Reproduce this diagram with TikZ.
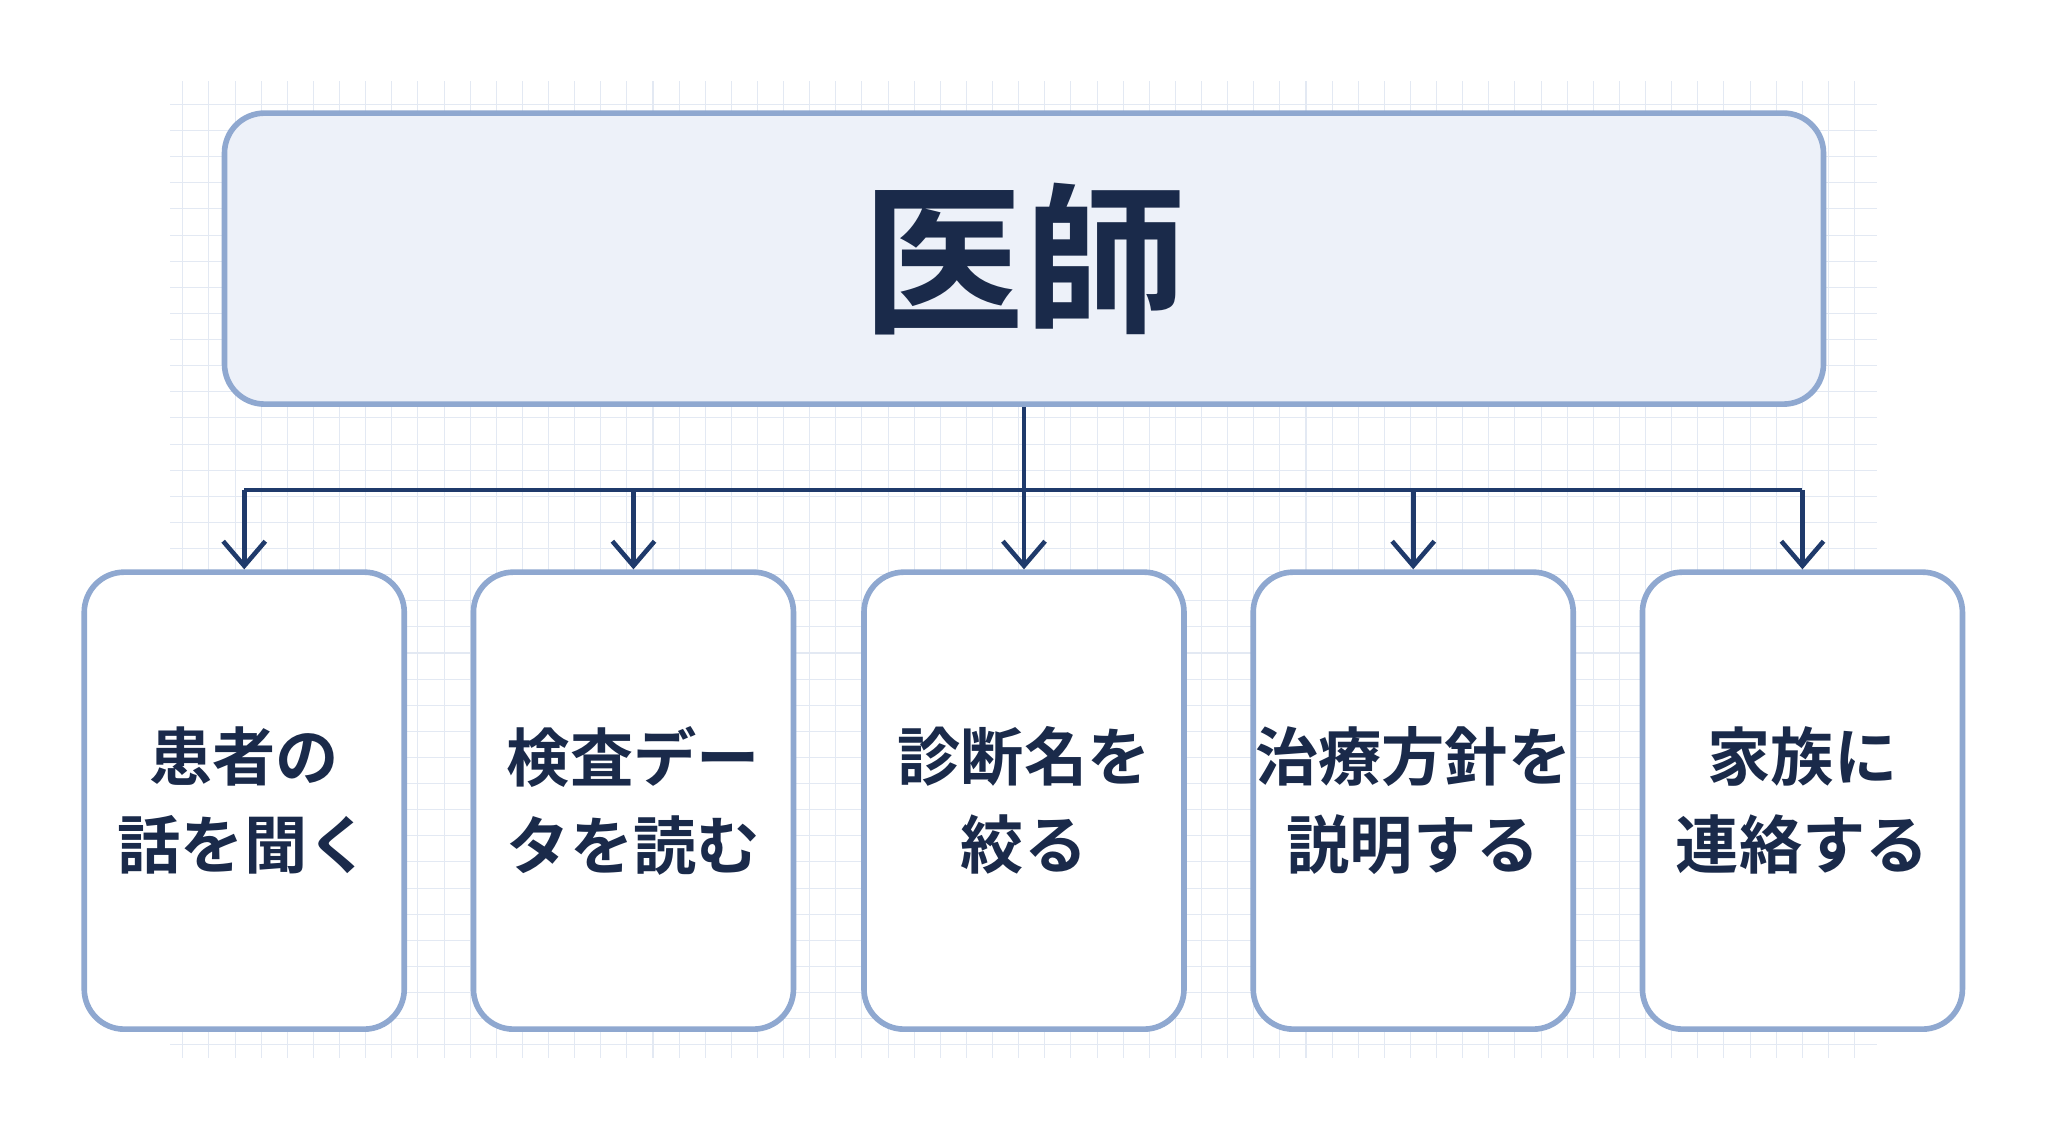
\documentclass[tikz,border=0pt]{standalone}
\usepackage{fontspec}
\setmainfont{Noto Sans CJK JP}
\newfontfamily\cjk{Noto Sans CJK JP}[BoldFont={* Bold}]
\usetikzlibrary{arrows.meta}
\usetikzlibrary{positioning}
\definecolor{boxline}{HTML}{8FA8D0}
\definecolor{topfill}{HTML}{EDF1F9}
\definecolor{navy}{HTML}{1F3A6B}
\definecolor{ink}{HTML}{1A2A4A}
\definecolor{gridc}{HTML}{E3E9F3}
\tikzset{
  rolebox/.style={draw=boxline, line width=1.6pt, rounded corners=0.4cm, fill=topfill,
    minimum width=15.99cm, minimum height=2.91cm, text=ink, font=\cjk\bfseries\fontsize{46}{54}\selectfont},
  taskbox/.style={draw=boxline, line width=1.6pt, rounded corners=0.4cm, fill=white,
    minimum width=3.2cm, minimum height=4.57cm, inner xsep=0pt, align=center, text=ink,
    font=\cjk\bfseries\fontsize{18}{25}\selectfont},
  link/.style={draw=navy, line width=1.3pt},
  arrow/.style={link, -{Straight Barb[length=7pt,width=12pt]}}
}
\begin{document}
\begin{tikzpicture}[x=0.01306cm, y=-0.01306cm]
\useasboundingbox (0,0) rectangle (1568,875);
% faint background grid
\draw[gridc, line width=0.3pt, step=0.2612cm] (130,62) grid (1437,810);
% boss node
\node[rolebox] (doctor) at (784,198) {医師};
% task nodes
\node[taskbox] (t1) at (187,613) {患者の\\話を聞く};
\node[taskbox] (t2) at (485,613) {検査デー\\タを読む};
\node[taskbox] (t3) at (784,613) {診断名を\\絞る};
\node[taskbox] (t4) at (1082,613) {治療方針を\\説明する};
\node[taskbox] (t5) at (1380,613) {家族に\\連絡する};
% connectors
\coordinate (hub) at (784,375);
\coordinate (left) at (187,375);
\coordinate (right) at (1380,375);
\draw[link] (doctor.south) -- (hub);
\draw[link] (left) -- (right);
\foreach \t in {t1,t2,t3,t4,t5}
  \draw[arrow] (\t.north |- hub) -- (\t.north);
\end{tikzpicture}
\end{document}
